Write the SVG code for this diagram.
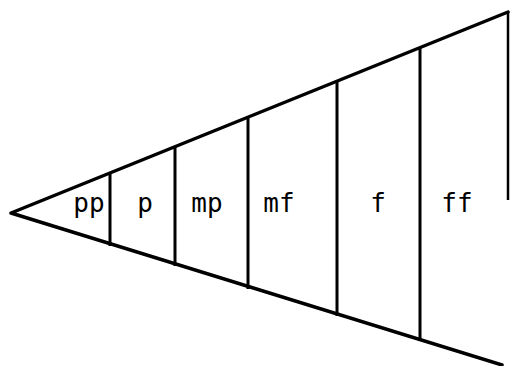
<svg xmlns="http://www.w3.org/2000/svg" width="510" height="366" viewBox="0 0 510 366">
<style>
.ln{stroke:#000;stroke-width:3.5;fill:none;stroke-linecap:round;stroke-linejoin:round}
.vl{stroke:#000;stroke-width:3}
.edge{stroke:#000;stroke-width:2.5}
text{font-family:"DejaVu Sans Mono","Liberation Mono",monospace;font-size:26px;fill:#000;text-anchor:middle}
</style>
<rect width="510" height="366" fill="#fff"/>
<g id="connectors">
<path class="ln" d="M508,12 L11,213 L502,365"/>
<line class="edge" x1="508" y1="12" x2="508" y2="200"/>
</g>
<g id="pp"><line class="vl" x1="110" y1="173" x2="110" y2="246"/><text x="89" y="212">pp</text></g>
<g id="p"><line class="vl" x1="175" y1="147" x2="175" y2="266"/><text x="145" y="212">p</text></g>
<g id="mp"><line class="vl" x1="248" y1="117" x2="248" y2="289"/><text x="207" y="212">mp</text></g>
<g id="mf"><line class="vl" x1="337" y1="81" x2="337" y2="316"/><text x="279" y="212">mf</text></g>
<g id="f"><line class="vl" x1="420" y1="47" x2="420" y2="341"/><text x="378" y="212">f</text></g>
<g id="ff"><text x="457" y="212">ff</text></g>
</svg>
